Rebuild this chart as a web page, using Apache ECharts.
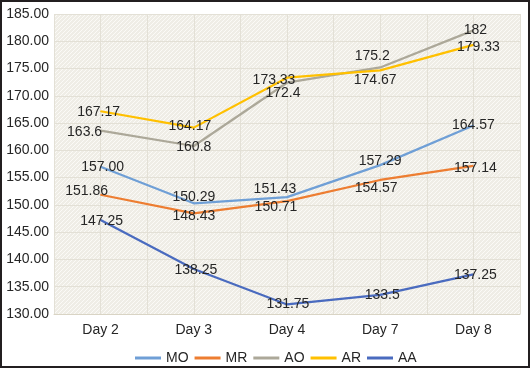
<!DOCTYPE html>
<html><head><meta charset="utf-8">
<script src="https://cdn.jsdelivr.net/npm/echarts@6/dist/echarts.min.js"></script>
<style>
html,body{margin:0;padding:0;background:#fff;}
#c{width:530px;height:368px;box-sizing:border-box;border:2px solid #231f20;}
</style></head><body>
<div id="c"></div>
<script>
const categories = ['Day 2','Day 3','Day 4','Day 7','Day 8'];
const MO = [157.00, 150.29, 151.43, 157.29, 164.57];
const MR = [151.86, 148.43, 150.71, 154.57, 157.14];
const AO = [163.6, 160.8, 172.4, 175.2, 182];
const AR = [167.17, 164.17, 173.33, 174.67, 179.33];
const AA = [147.25, 138.25, 131.75, 133.5, 137.25];
const yTicks = {min:130, max:185, step:5};

// label offsets (styling only)
const offsets = {
  MO: [[2,0],[0,-6],[-12,-8],[0,-4],[0,0]],
  MR: [[-14,-4],[0,3],[-11,6],[-4,8],[2,2]],
  AO: [[-16,1],[0,1],[-4,10],[-8,-11],[2,0]],
  AR: [[-2,1],[-4,-1],[-13,2],[-5,10],[5,2]],
  AA: [[1,1],[2,1],[1,0],[2,0],[2,1]]
};
const colors = {MO:'#6f9fd6', MR:'#ed7d31', AO:'#aca899', AR:'#ffc000', AA:'#4a6bbf'};
const fixed2 = {MO:true, MR:true};

// texture
const tile = document.createElement('canvas');
tile.width = 4; tile.height = 4;
const tc = tile.getContext('2d');
tc.fillStyle = '#efede6'; tc.fillRect(0,0,4,4);
tc.fillStyle = '#fbfaf7';
for (let i=0;i<4;i++){ tc.fillRect(i,(3-i),1,1); }

const chart = echarts.init(document.getElementById('c'), null, {renderer:'canvas'});
const seriesDefs = [['MO',MO],['MR',MR],['AO',AO],['AR',AR],['AA',AA]];
const series = seriesDefs.map(([name, vals]) => ({
  name, type:'line', xAxisIndex:0, yAxisIndex:0,
  symbol:'circle', symbolSize:1, showSymbol:true,
  itemStyle:{color:colors[name]},
  lineStyle:{color:colors[name], width:2.25},
  emphasis:{disabled:true},
  data: vals.map((v,i)=>({value:v, label:{offset:offsets[name][i]}})),
  label:{show:true, position:'inside', color:'#262626',
    fontFamily:'Liberation Sans, Arial, sans-serif', fontSize:14,
    formatter: p => fixed2[name] ? p.value.toFixed(2) : String(p.value)}
}));

chart.setOption({
  animation:false,
  grid:{left:52, right:8, top:12, bottom:52, show:true, borderWidth:0,
    backgroundColor:{image:tile, repeat:'repeat'}},
  xAxis:[{type:'category', data:categories, boundaryGap:true,
    axisLine:{show:true, lineStyle:{color:'#d9d4c4', width:1}},
    axisTick:{show:false},
    axisLabel:{color:'#262626', fontSize:14, fontFamily:'Liberation Sans, Arial, sans-serif', margin:9},
    splitLine:{show:false}},
   {type:'value', min:0, max:10, interval:1, position:'bottom', show:true,
    axisLine:{show:false}, axisTick:{show:false}, axisLabel:{show:false},
    splitLine:{show:true, lineStyle:{color:'#e3e0d6', width:1}}}],
  yAxis:{type:'value', min:yTicks.min, max:yTicks.max, interval:yTicks.step,
    axisLine:{show:false}, axisTick:{show:false},
    axisLabel:{color:'#262626', fontSize:14, fontFamily:'Liberation Sans, Arial, sans-serif', margin:5,
      formatter: v => v.toFixed(2)},
    splitLine:{show:true, lineStyle:{color:'#e3e0d6', width:1}}},
  legend:{top:344, left:128, itemGap:6, itemWidth:26, itemHeight:3, icon:'rect',
    data:['MO','MR','AO','AR','AA'],
    textStyle:{color:'#262626', fontSize:14, fontFamily:'Liberation Sans, Arial, sans-serif'}},
  series
});
</script></body></html>
